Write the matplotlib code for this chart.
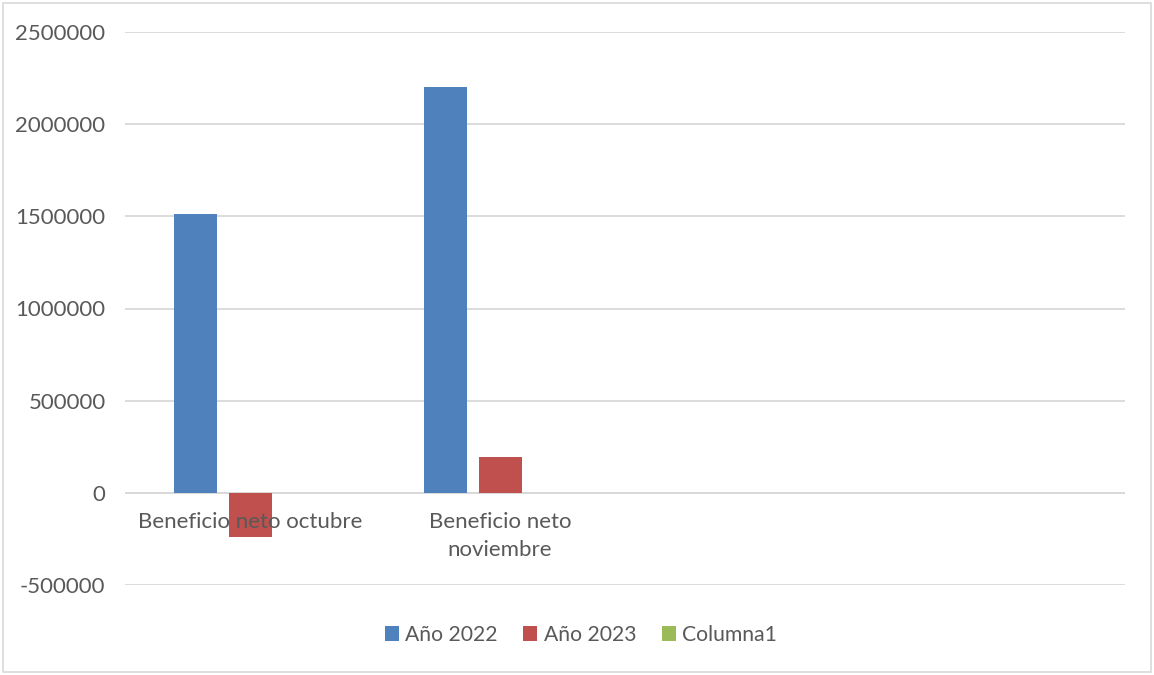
import numpy as np
import matplotlib
matplotlib.use("Agg")
import matplotlib.pyplot as plt
from matplotlib.patches import Rectangle, Patch

categories = ["Beneficio neto octubre", "Beneficio neto\nnoviembre", "", ""]
series_names = ["Año 2022", "Año 2023", "Columna1"]
anio_2022 = [1510000, 2200000, np.nan, np.nan]
anio_2023 = [-240000, 195000, np.nan, np.nan]
columna1 = [np.nan, np.nan, np.nan, np.nan]
yticks = [-500000, 0, 500000, 1000000, 1500000, 2000000, 2500000]

colors = ["#4F81BD", "#C0504D", "#9BBB59"]
text_color = "#595959"
grid_color = "#D9D9D9"

plt.rcParams['font.family'] = ['Lato', 'DejaVu Sans']
fs = 16

fig = plt.figure(figsize=(11.54, 6.75), dpi=100)
ax = fig.add_axes([125/1154, 1-585/675, 1000/1154, (585-32)/675])

x = np.arange(len(categories))
width = 0.172
offsets = [-0.22, 0.0, 0.22]
for vals, off, c, name in zip([anio_2022, anio_2023, columna1], offsets, colors, series_names):
    ax.bar(x + off, vals, width=width, color=c, label=name, zorder=3)

ax.set_xlim(-0.5, len(categories) - 0.5)
ax.set_ylim(yticks[0], yticks[-1])
ax.set_yticks(yticks)
ax.set_yticklabels([str(v) for v in yticks], fontsize=fs, color=text_color)
ax.tick_params(axis='y', length=0, pad=14)
ax.set_xticks([])
for s in ax.spines.values():
    s.set_visible(False)
ax.grid(axis='y', color=grid_color, linewidth=1.3, zorder=0)
ax.axhline(0, color=grid_color, linewidth=1.3, zorder=2)

for xi, lab in zip(x, categories):
    if lab:
        ax.annotate(lab, xy=(xi, 0), xytext=(0, -14), textcoords='offset points',
                    ha='center', va='top', fontsize=fs, color=text_color,
                    linespacing=1.5, zorder=4)

handles = [Patch(facecolor=c) for c in colors]
fig.legend(handles, series_names, loc='center', bbox_to_anchor=(581/1154, 1-635/675),
           ncol=3, frameon=False, fontsize=15.2, labelcolor=text_color,
           handlelength=0.67, handleheight=0.67, handletextpad=0.3, columnspacing=1.2)

fig.add_artist(Rectangle((3/1154, 3/675), 1-6/1154, 1-6/675, transform=fig.transFigure,
                         fill=False, edgecolor=grid_color, linewidth=1.2))

fig.savefig("out.png", dpi=100, facecolor="white")
